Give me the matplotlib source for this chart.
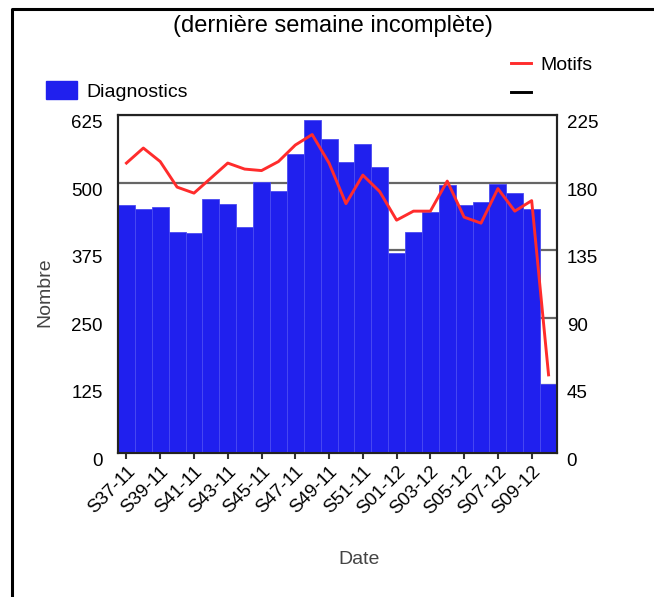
import matplotlib
matplotlib.use('Agg')
import matplotlib.pyplot as plt
from matplotlib.lines import Line2D
from matplotlib.patches import Patch

plt.rcParams['font.family'] = ['Liberation Sans', 'DejaVu Sans']

weeks = ['S%02d-11' % w for w in range(37, 53)] + ['S%02d-12' % w for w in range(1, 11)]
diagnostics = [458, 451, 455, 409, 407, 470, 461, 418, 502, 484, 552, 615, 581,
               539, 572, 528, 370, 408, 446, 495, 458, 464, 498, 481, 452, 127]
motifs = [193, 203, 194, 177, 173, 183, 193, 189, 188, 194, 205, 212, 193,
          166, 185, 174, 155, 161, 161, 181, 157, 153, 176, 161, 168, 52]
left_ticks = [0, 125, 250, 375, 500, 625]
right_ticks = [0, 45, 90, 135, 180, 225]

W, H = 654, 597
fig = plt.figure(figsize=(W / 100, H / 100), dpi=100)
ax = fig.add_axes([118 / W, 1 - 453 / H, (557 - 118) / W, (453 - 115) / H])
ax2 = ax.twinx()

x = list(range(len(weeks)))
ax.bar(x, diagnostics, width=1.0, color='#2020ee', edgecolor='#4a4af2',
       linewidth=0.6, zorder=3, label='Diagnostics')
ax.set_xlim(-0.5, len(weeks) - 0.5)
ax.set_ylim(0, 625)
ax.set_yticks(left_ticks)
ax.yaxis.grid(True, color='#666666', linewidth=1.6, zorder=0)
ax.set_axisbelow(True)

ax2.plot(x, motifs, color='#ff2c2c', linewidth=2.1, zorder=4, label='Motifs')
ax2.plot([], [], color='black', linewidth=2.1, label=' ')
ax2.set_ylim(0, 225)
ax2.set_yticks(right_ticks)

ax.set_xticks(x[::2])
ax.set_xticklabels(weeks[::2], rotation=45, ha='right', rotation_mode='anchor')
ax.tick_params(axis='x', length=4, width=1.5, color='#333333', labelsize=13.5, pad=3)
ax.tick_params(axis='y', length=0, labelsize=13.5, pad=11)
ax2.tick_params(axis='y', length=0, labelsize=13.5, pad=7)
for lbl in ax.get_yticklabels() + ax2.get_yticklabels():
    lbl.set_verticalalignment('top')

for a in (ax, ax2):
    for s in a.spines.values():
        s.set_color('#222222')
        s.set_linewidth(1.5)

ax.set_xlabel('Date', fontsize=14, color='#444444', va='center')
ax.xaxis.set_label_coords((359 - 118) / 439, (453 - 560) / 338)
ax.set_ylabel('Nombre', fontsize=14, color='#444444', va='center')
ax.yaxis.set_label_coords((45 - 118) / 439, (453 - 292) / 338)

fig.text(333 / W, 1 - 26 / H, '(dernière semaine incomplète)', fontsize=17,
         ha='center', va='center')

leg1 = fig.legend(handles=[Patch(color='#2020ee')], labels=['Diagnostics'],
                  loc='center left', bbox_to_anchor=(46 / W, 1 - 91 / H),
                  frameon=False, fontsize=14, handlelength=1.6, handleheight=1.0,
                  handletextpad=0.5, borderpad=0, borderaxespad=0)
h2, l2 = ax2.get_legend_handles_labels()
leg2 = fig.legend(h2, l2, loc='upper left', bbox_to_anchor=(511 / W, 1 - 56 / H),
                  frameon=False, fontsize=14, handlelength=1.05, handletextpad=0.45,
                  labelspacing=0.62, borderpad=0, borderaxespad=0)

fig.add_artist(Line2D([12 / W, 12 / W, 1], [0, 1 - 9 / H, 1 - 9 / H],
                      transform=fig.transFigure, color='black', linewidth=2.2))

fig.savefig('out.png', dpi=100)
